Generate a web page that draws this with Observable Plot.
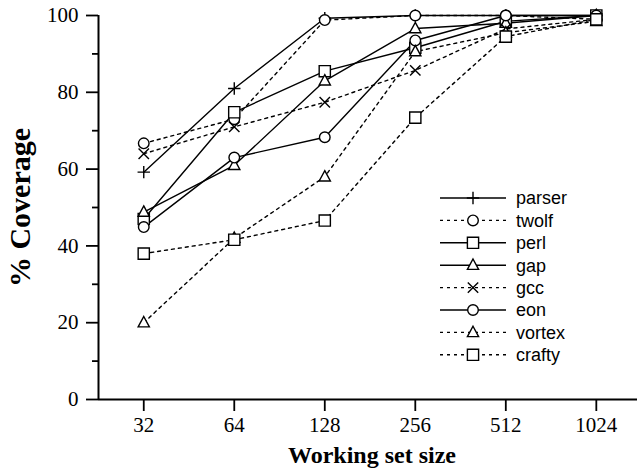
<!DOCTYPE html>
<html>
<head>
<meta charset="utf-8">
<script src="https://cdn.jsdelivr.net/npm/d3@7"></script>
<script src="https://cdn.jsdelivr.net/npm/@observablehq/plot@0.6"></script>
<style>
  html, body { margin: 0; padding: 0; background: #fff; }
  #chart { position: relative; width: 637px; height: 476px; }
</style>
</head>
<body>
<div id="chart"></div>
<script>
// ---- data ----
const sizes = [32, 64, 128, 256, 512, 1024];
const seriesNames = ["parser", "twolf", "perl", "gap", "gcc", "eon", "vortex", "crafty"];
const parser = [59.2, 81.0, 99.3, 100, 100, 100];
const twolf  = [66.7, 73.0, 98.8, 100, 100, 99.0];
const perl   = [47.0, 74.8, 85.5, 91.6, 98.5, 100];
const gap    = [48.8, 61.0, 83.0, 96.6, 98.0, 100];
const gcc    = [64.0, 71.0, 77.4, 85.7, 96.5, 99.0];
const eon    = [44.9, 63.0, 68.3, 93.5, 100, 100];
const vortex = [20.0, 42.0, 58.0, 90.6, 95.5, 98.5];
const crafty = [38.0, 41.6, 46.6, 73.4, 94.5, 99.0];
const seriesValues = [parser, twolf, perl, gap, gcc, eon, vortex, crafty];
const yMajorTicks = [0, 20, 40, 60, 80, 100];
const yMinorTicks = [10, 30, 50, 70, 90];
const xTickLabels = ["32", "64", "128", "256", "512", "1024"];

// ---- styles ----
const sym = f => ({draw(ctx, size) { const r = Math.sqrt(size / Math.PI); f(ctx, r); }});
const symbols = {
  circle: sym((c, r) => { c.moveTo(r, 0); c.arc(0, 0, r, 0, 2 * Math.PI); }),
  square: sym((c, r) => { c.rect(-r, -r, 2 * r, 2 * r); }),
  triangle: sym((c, r) => { c.moveTo(0, -r * 1.1); c.lineTo(r, r * 0.75); c.lineTo(-r, r * 0.75); c.closePath(); }),
  plus: sym((c, r) => { c.moveTo(-r, 0); c.lineTo(r, 0); c.moveTo(0, -r); c.lineTo(0, r); }),
  times: sym((c, r) => { c.moveTo(-r, -r); c.lineTo(r, r); c.moveTo(-r, r); c.lineTo(r, -r); })
};
const symR = {circle: 5.3, square: 5.6, triangle: 5.6, plus: 6.2, times: 5.2};
const seriesSymbol = ["plus", "circle", "square", "triangle", "times", "circle", "triangle", "square"];
const seriesDashed = [false, true, false, false, true, false, true, true];
const DASH = "3,4";

const rows = [];
seriesNames.forEach((name, i) => sizes.forEach((s, j) => rows.push({series: name, idx: i, size: s, value: seriesValues[i][j]})));

const xDomain = [Math.pow(2, 4.5), Math.pow(2, 10.455)];
const serif = "'Liberation Serif', 'Times New Roman', serif";

const marks = [];
seriesNames.forEach((name, i) => {
  const data = rows.filter(d => d.idx === i);
  marks.push(Plot.line(data, {x: "size", y: "value", stroke: "black", strokeWidth: 1.4,
    strokeDasharray: seriesDashed[i] ? DASH : null}));
});
seriesNames.forEach((name, i) => {
  const data = rows.filter(d => d.idx === i);
  const s = seriesSymbol[i];
  const open = s === "plus" || s === "times";
  marks.push(Plot.dot(data, {x: "size", y: "value", symbol: symbols[s], r: symR[s],
    stroke: "black", strokeWidth: 1.4, fill: open ? "none" : "white"}));
});

const chart = Plot.plot({
  width: 637,
  height: 476,
  marginLeft: 98,
  marginRight: 0,
  marginTop: 15,
  marginBottom: 77,
  style: {fontFamily: serif, background: "white", overflow: "visible"},
  x: {type: "log", base: 2, domain: xDomain, range: [98, 637]},
  y: {domain: [0, 100]},
  marks: [
    Plot.axisY({ticks: yMajorTicks, tickSize: 12, tickPadding: 8, fontSize: 21, label: null, strokeWidth: 1.8}),
    Plot.axisY({ticks: yMinorTicks, tickSize: 6, text: null, label: null, strokeWidth: 1.8}),
    Plot.axisX({ticks: sizes, tickFormat: (d) => xTickLabels[sizes.indexOf(d)], tickSize: 12, tickPadding: 6, fontSize: 21, label: null, strokeWidth: 1.8}),
    Plot.ruleY([0], {strokeWidth: 2}),
    Plot.ruleX([xDomain[0]], {strokeWidth: 2}),
    ...marks,
    Plot.text(["% Coverage"], {frameAnchor: "left", textAnchor: "middle", lineAnchor: "middle", rotate: -90, dx: -78, fontSize: 30, fontWeight: "bold", fontFamily: serif}),
    Plot.text(["Working set size"], {frameAnchor: "bottom", textAnchor: "middle", lineAnchor: "middle", dx: 4, dy: 56, fontSize: 24, fontWeight: "bold", fontFamily: serif})
  ]
});
document.getElementById("chart").appendChild(chart);

// ---- legend (drawn into the same SVG) ----
const svg = d3.select(chart);
const lg = svg.append("g").attr("transform", "translate(440,198)").attr("text-anchor", "start");
seriesNames.forEach((name, i) => {
  const g = lg.append("g").attr("transform", `translate(0,${i * 22.4})`);
  g.append("line").attr("x1", 0).attr("x2", 66).attr("y1", 0).attr("y2", 0)
    .attr("stroke", "black").attr("stroke-width", 1.4)
    .attr("stroke-dasharray", seriesDashed[i] ? DASH : null);
  const s = seriesSymbol[i];
  const open = s === "plus" || s === "times";
  const r = symR[s];
  g.append("path").attr("transform", "translate(33,0)")
    .attr("d", d3.symbol(symbols[s], r * r * Math.PI)())
    .attr("stroke", "black").attr("stroke-width", 1.4).attr("fill", open ? "none" : "white");
  g.append("text").attr("x", 76).attr("y", 0).attr("dy", "0.35em").attr("text-anchor", "start")
    .attr("font-family", "'Liberation Sans', Arial, sans-serif").attr("font-size", 18)
    .text(name);
});
</script>
</body>
</html>
